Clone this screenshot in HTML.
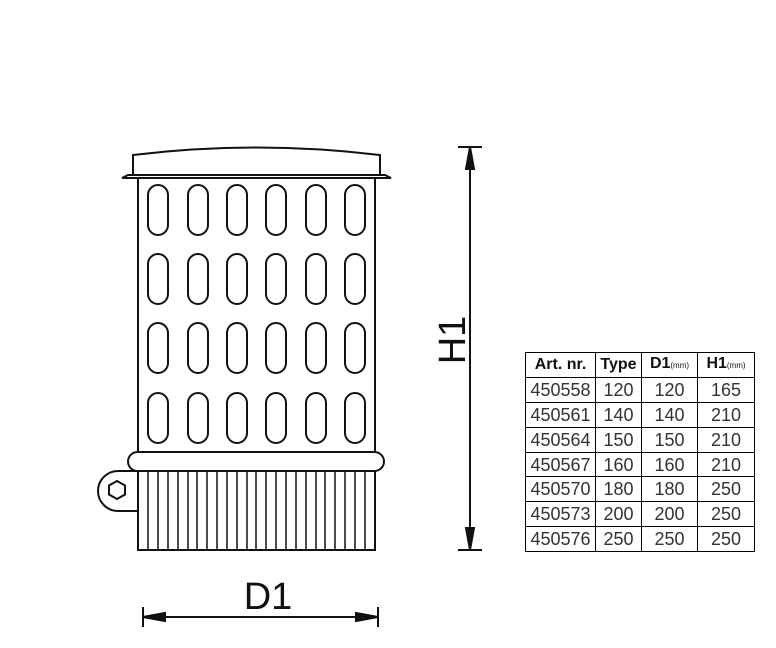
<!DOCTYPE html>
<html><head><style>
body{margin:0;background:#fff;width:776px;height:648px;overflow:hidden;position:relative}
table{position:absolute;left:525px;top:352px;border-collapse:collapse;font-family:"Liberation Sans",sans-serif;font-size:18px;color:#333;table-layout:fixed}
td{border:1px solid #000;height:23.9px;padding:0;text-align:center;line-height:20px}
th{border:1px solid #000;height:23.9px;padding:0;font-size:16px;color:#111;line-height:20px;white-space:nowrap}
small{font-size:8px;font-weight:normal}
</style></head><body>
<svg width="776" height="648" style="position:absolute;left:0;top:0" fill="none" stroke="#111" stroke-width="2">
<path d="M133 175 L133 155 Q256 140 380 155 L380 175 Z" fill="#fff"/>
<path d="M122 178 L128 175 L385 175 L391 178 Z" fill="#fff"/>
<rect x="138" y="178" width="237" height="275"/>
<g id="ov">
<rect x="148" y="185" width="20" height="50" rx="10"/>
<rect x="188" y="185" width="20" height="50" rx="10"/>
<rect x="227" y="185" width="20" height="50" rx="10"/>
<rect x="266" y="185" width="20" height="50" rx="10"/>
<rect x="306" y="185" width="20" height="50" rx="10"/>
<rect x="345" y="185" width="20" height="50" rx="10"/>
</g>
<use href="#ov" y="69"/><use href="#ov" y="138"/><use href="#ov" y="208"/>
<path d="M138 471 L118 471 A20 20 0 0 0 118 511 L138 511" fill="#fff"/>
<polygon points="117,481 125,485.5 125,494.5 117,499 109,494.5 109,485.5"/>
<rect x="128" y="452" width="256" height="19" rx="9.5" fill="#fff"/>
<rect x="138" y="471" width="237" height="79"/>
<g stroke-width="1.5">
<path d="M148 471V550M158 471V550M168 471V550M178 471V550M188 471V550M197 471V550M207 471V550M217 471V550M227 471V550M237 471V550M247 471V550M256 471V550M266 471V550M276 471V550M286 471V550M296 471V550M306 471V550M316 471V550M325 471V550M335 471V550M345 471V550M355 471V550M365 471V550"/>
</g>
<path d="M470 147V550M458 147H482M458 550H482"/>
<path d="M470 147l-4 22h8zM470 550l-4-22h8z" fill="#111"/>
<path d="M143 617H378M143 607V627M378 607V627"/>
<path d="M143 617l22-4v8zM378 617l-22-4v8z" fill="#111"/>
<g fill="#111" stroke="none" font-family="Liberation Sans,sans-serif" font-size="38">
<text x="268" y="609" text-anchor="middle">D1</text>
<text transform="translate(465,340) rotate(-90)" text-anchor="middle">H1</text>
</g>
</svg>
<table>
<colgroup><col style="width:70px"><col style="width:46px"><col style="width:56px"><col style="width:57px"></colgroup>
<tr><th>Art. nr.</th><th>Type</th><th>D1<small>(mm)</small></th><th>H1<small>(mm)</small></th></tr>
<tr><td>450558</td><td>120</td><td>120</td><td>165</td></tr>
<tr><td>450561</td><td>140</td><td>140</td><td>210</td></tr>
<tr><td>450564</td><td>150</td><td>150</td><td>210</td></tr>
<tr><td>450567</td><td>160</td><td>160</td><td>210</td></tr>
<tr><td>450570</td><td>180</td><td>180</td><td>250</td></tr>
<tr><td>450573</td><td>200</td><td>200</td><td>250</td></tr>
<tr><td>450576</td><td>250</td><td>250</td><td>250</td></tr>
</table>
</body></html>
